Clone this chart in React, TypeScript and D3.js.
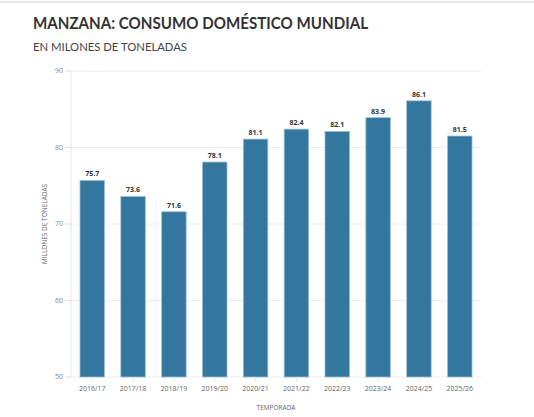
import React from "react";
import * as d3 from "d3";

const categories = ["2016/17","2017/18","2018/19","2019/20","2020/21","2021/22","2022/23","2023/24","2024/25","2025/26"];
const values = [75.7, 73.6, 71.6, 78.1, 81.1, 82.4, 82.1, 83.9, 86.1, 81.5];
const yTicks = [50, 60, 70, 80, 90];

const W = 534, H = 417;
const FONT = "'Open Sans', 'Noto Sans', sans-serif";

export default function App() {
  const x = d3.scaleBand<string>().domain(categories).range([71, 481]).paddingInner(0.4).paddingOuter(0.22);
  const y = d3.scaleLinear().domain([50, 90]).range([377, 71]);
  return (
    <svg width={W} height={H} style={{ position: "absolute", left: 0, top: 0, background: "#fff" }} fontFamily={FONT}>
      <line x1={0} x2={W} y1={2} y2={2} stroke="#dcdcdc" strokeWidth={1.5} />
      <text x={33} y={29} fontSize={17.5} fontWeight={700} fill="#333" fontFamily="Lato, sans-serif" textLength={335} lengthAdjust="spacingAndGlyphs">MANZANA: CONSUMO DOMÉSTICO MUNDIAL</text>
      <text x={33} y={50.5} fontSize={12} fill="#444" fontFamily="Lato, sans-serif" textLength={154} lengthAdjust="spacingAndGlyphs">EN MILONES DE TONELADAS</text>
      {yTicks.map(t => (
        <g key={t}>
          <line x1={71} x2={481} y1={y(t)} y2={y(t)} stroke="#ececec" strokeWidth={1} />
          <line x1={65} x2={71} y1={y(t)} y2={y(t)} stroke="#e0e0e0" strokeWidth={1} />
          <text x={63} y={y(t)} dy="0.35em" textAnchor="end" fontSize={7} fill="#888">{t}</text>
        </g>
      ))}
      <line x1={71} x2={71} y1={71} y2={377} stroke="#e6e6e6" strokeWidth={1} />
      {categories.map((c, i) => {
        const cx = (x(c) as number) + x.bandwidth() / 2;
        return (
          <g key={c}>
            <rect x={x(c)} y={y(values[i])} width={x.bandwidth()} height={y(50) - y(values[i])} fill="#33779f" stroke="#9dbdd3" strokeWidth={0.8} />
            <line x1={cx} x2={cx} y1={377} y2={381} stroke="#e0e0e0" />
            <text x={cx} y={y(values[i]) - 4} textAnchor="middle" fontSize={7} fontWeight={700} fill="#333">{values[i].toFixed(1)}</text>
            <text x={cx} y={390.5} textAnchor="middle" fontSize={7} fill="#666">{c}</text>
          </g>
        );
      })}
      <text x={276} y={409.5} textAnchor="middle" fontSize={6.5} fill="#666">TEMPORADA</text>
      <text transform={`translate(46.5,224) rotate(-90)`} textAnchor="middle" fontSize={6.5} fill="#666">MILLONES DE TONELADAS</text>
    </svg>
  );
}
